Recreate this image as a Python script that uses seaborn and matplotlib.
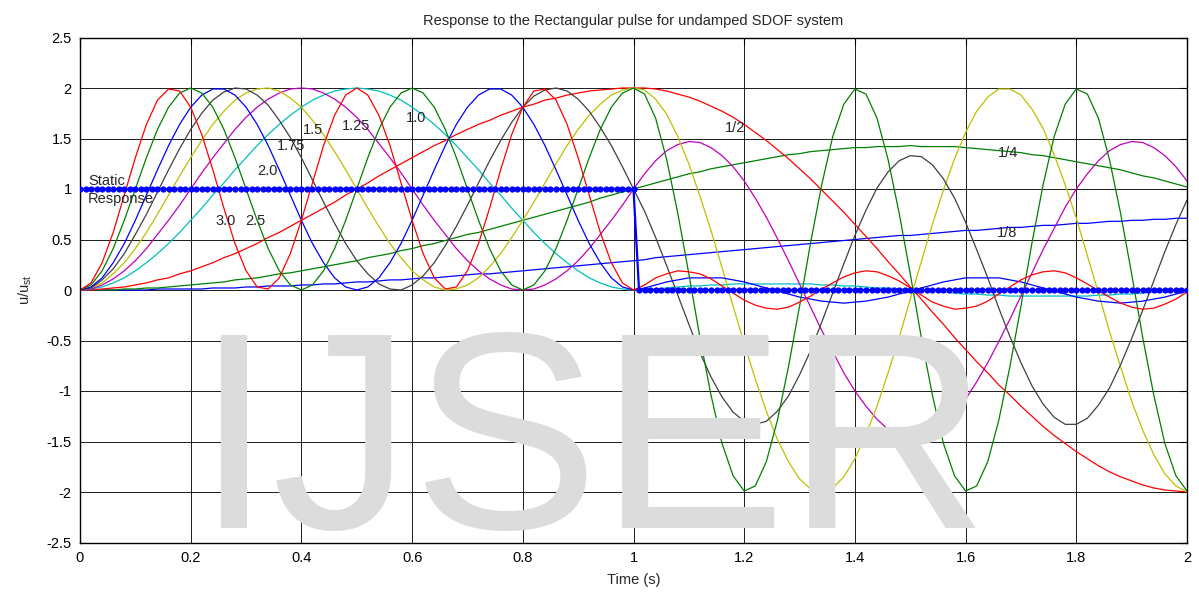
import numpy as np
import matplotlib
matplotlib.use("Agg")
import matplotlib.pyplot as plt
import seaborn as sns

sns.set_style("white")
plt.rcParams['font.family'] = ['Liberation Sans', 'DejaVu Sans']
plt.rcParams['axes.unicode_minus'] = False
plt.rcParams['mathtext.default'] = 'regular'

# time axis (s), samples every 0.02 s
t = np.round(np.arange(0, 2.0001, 0.02), 2)
# responses u/u_st, in hundredths
u_1_8 = [0,0,0,0,0,0,0,1,1,1,1,1,2,2,2,3,3,4,4,4,5,5,6,6,7,8,8,9,10,10,11,12,12,13,14,15,16,16,17,18,19,20,21,22,23,24,25,26,27,28,29,30,32,33,34,35,36,37,38,39,40,41,42,43,44,45,46,47,48,49,50,51,52,53,54,54,55,56,57,58,59,59,60,61,62,62,63,64,64,65,66,66,67,68,68,69,69,70,70,71,71]
u_1_4 = [0,0,0,0,1,1,2,2,3,4,5,6,7,8,10,11,12,14,16,17,19,21,23,25,27,29,32,34,36,39,41,44,46,49,52,55,57,60,63,66,69,72,75,78,81,84,87,91,94,97,100,103,106,109,112,115,117,120,122,124,126,128,130,132,134,135,137,138,139,140,141,141,142,142,142,143,142,142,142,142,141,140,139,138,137,136,134,133,131,129,127,125,123,121,119,116,113,111,108,105,102]
u_1_2 = [0,0,1,2,3,5,7,10,12,16,19,23,27,32,36,41,46,52,57,63,69,75,81,87,94,100,106,113,119,125,131,137,143,148,154,159,164,168,173,177,181,184,188,190,193,195,197,198,199,200,200,200,199,197,194,191,187,182,177,171,164,156,148,139,130,120,110,99,88,77,65,53,41,28,16,3,-9,-22,-34,-47,-59,-71,-82,-94,-104,-115,-125,-135,-144,-152,-160,-167,-174,-180,-185,-189,-193,-196,-198,-199,-200]
u_1_0 = [0,1,3,7,12,19,27,36,46,57,69,81,94,106,119,131,143,154,164,173,181,188,193,197,199,200,199,197,193,188,181,173,164,154,143,131,119,106,94,81,69,57,46,36,27,19,12,7,3,1,0,1,1,2,3,4,4,5,5,6,6,6,6,6,6,6,6,5,5,4,4,3,2,2,1,0,-1,-1,-2,-3,-4,-4,-5,-5,-6,-6,-6,-6,-6,-6,-6,-6,-5,-5,-4,-4,-3,-2,-2,-1,0]
u_1_25 = [0,1,5,11,19,29,41,55,69,84,100,116,131,145,159,171,181,189,195,199,200,199,195,189,181,171,159,145,131,116,100,84,69,55,41,29,19,11,5,1,0,1,5,11,19,29,41,55,69,84,100,115,128,138,144,147,146,141,133,122,108,91,72,51,29,6,-17,-40,-61,-82,-100,-115,-128,-138,-144,-147,-146,-141,-133,-122,-108,-91,-72,-51,-29,-6,17,40,61,82,100,115,128,138,144,147,146,141,133,122,108]
u_1_5 = [0,2,7,16,27,41,57,75,94,113,131,148,164,177,188,195,199,200,197,190,181,168,154,137,119,100,81,63,46,32,19,10,3,0,1,5,12,23,36,52,69,87,106,125,143,159,173,184,193,198,200,198,189,174,152,125,93,59,22,-16,-53,-88,-120,-148,-170,-187,-197,-200,-196,-185,-167,-143,-115,-82,-47,-9,28,65,99,130,156,177,191,199,199,193,179,160,134,104,71,34,-3,-41,-76,-110,-139,-163,-182,-194,-200]
u_1_75 = [0,2,10,21,36,55,75,97,119,140,159,175,188,196,200,199,193,183,168,151,131,109,87,66,46,29,16,6,1,0,5,14,27,44,63,84,106,128,148,166,181,192,198,200,197,189,177,161,143,122,100,78,52,24,-5,-34,-62,-86,-106,-121,-130,-133,-130,-120,-105,-84,-60,-32,-3,26,54,79,101,117,128,133,132,124,110,91,67,40,12,-18,-46,-72,-95,-113,-126,-133,-133,-127,-114,-97,-74,-48,-20,9,38,65,89]
u_2_0 = [0,3,12,27,46,69,94,119,143,164,181,193,199,199,193,181,164,143,119,94,69,46,27,12,3,0,3,12,27,46,69,94,119,143,164,181,193,199,199,193,181,164,143,119,94,69,46,27,12,3,0,2,5,8,10,12,12,12,12,10,8,5,2,-1,-4,-7,-9,-11,-12,-13,-12,-11,-9,-7,-4,-1,2,5,8,10,12,12,12,12,10,8,5,2,-1,-4,-7,-9,-11,-12,-13,-12,-11,-9,-7,-4,-1]
u_2_5 = [0,5,19,41,69,100,131,159,181,195,200,195,181,159,131,100,69,41,19,5,0,5,19,41,69,100,131,159,181,195,200,195,181,159,131,100,69,41,19,5,0,5,19,41,69,100,131,159,181,195,200,194,170,129,76,16,-47,-104,-152,-184,-199,-194,-170,-129,-76,-16,47,104,152,184,199,194,170,129,76,16,-47,-104,-152,-184,-199,-194,-170,-129,-76,-16,47,104,152,184,199,194,170,129,76,16,-47,-104,-152,-184,-199]
u_3_0 = [0,7,27,57,94,131,164,188,199,197,181,154,119,81,46,19,3,1,12,36,69,106,143,173,193,200,193,173,143,106,69,36,12,1,3,19,46,81,119,154,181,197,199,188,164,131,94,57,27,7,0,5,12,16,19,18,16,11,4,-3,-10,-15,-18,-19,-17,-12,-6,1,7,13,17,19,18,14,9,2,-5,-12,-16,-19,-18,-16,-11,-4,3,10,15,18,19,17,12,6,-1,-7,-13,-17,-19,-18,-14,-9,-2]

series = [u_1_8, u_1_4, u_1_2, u_1_0, u_1_25, u_1_5, u_1_75, u_2_0, u_2_5, u_3_0]
colors = ['#0000ff', '#008000', '#ff0000', '#00bfbf', '#bf00bf', '#bfbf00', '#404040',
          '#0000ff', '#008000', '#ff0000']

# static response, sampled every 0.01 s
static_t = np.round(np.arange(0, 2.0001, 0.01), 2)
static_v = [1.0]*101 + [0.0]*100

curve_labels = ["Static", "Response", "3.0", "2.5", "2.0", "1.75", "1.5", "1.25", "1.0", "1/2", "1/4", "1/8"]
label_x = [0.0145, 0.0145, 0.244, 0.298, 0.320, 0.356, 0.403, 0.473, 0.589, 1.165, 1.658, 1.657]
label_y = [1.04, 0.861, 0.64, 0.64, 1.14, 1.386, 1.545, 1.584, 1.663, 1.564, 1.317, 0.525]

x_ticks = [0, 0.2, 0.4, 0.6, 0.8, 1, 1.2, 1.4, 1.6, 1.8, 2]
x_tick_labels = ['0', '0.2', '0.4', '0.6', '0.8', '1', '1.2', '1.4', '1.6', '1.8', '2']
y_ticks = [-2.5, -2, -1.5, -1, -0.5, 0, 0.5, 1, 1.5, 2, 2.5]
y_tick_labels = ['-2.5', '-2', '-1.5', '-1', '-0.5', '0', '0.5', '1', '1.5', '2', '2.5']

fig = plt.figure(figsize=(11.99, 5.93), dpi=100)
ax = fig.add_axes([80/1199, 1-542.5/593, 1107/1199, 505/593])
fig.text(194/1199, 1-528/593, "IJSER", fontsize=202, color='#dcdcdc', ha='left', va='baseline', zorder=0)
ax.patch.set_alpha(0)
for s, c in zip(series, colors):
    sns.lineplot(x=t, y=np.array(s)/100, color=c, lw=0.9, ax=ax, zorder=2)
sns.lineplot(x=static_t, y=static_v, color='#0000ff', lw=1.6, marker='o', markersize=4.5,
             markeredgewidth=0, ax=ax, zorder=3)
ax.set_xlim(0, 2); ax.set_ylim(-2.5, 2.5)
ax.set_xticks(x_ticks)
ax.set_xticklabels(x_tick_labels)
ax.set_yticks(y_ticks)
ax.set_yticklabels(y_tick_labels)
ax.tick_params(direction='in', length=5, width=0.8, top=True, right=True, labelsize=10.5, pad=6, colors='black')
ax.grid(True, color='#1a1a1a', lw=0.7)
ax.set_axisbelow('line')
for sp in ax.spines.values():
    sp.set_color('black'); sp.set_linewidth(1.0)
ax.set_title("Response to the Rectangular pulse for undamped SDOF system", fontsize=10.5, pad=9)
ax.set_xlabel("Time (s)", fontsize=10.5, labelpad=6)
ax.set_ylabel("u/u$_{st}$", fontsize=10.5, labelpad=9)
for s, x, y in zip(curve_labels, label_x, label_y):
    ax.text(x, y, s, fontsize=10.5, ha='left', va='baseline', zorder=4)
fig.savefig("out.png")
